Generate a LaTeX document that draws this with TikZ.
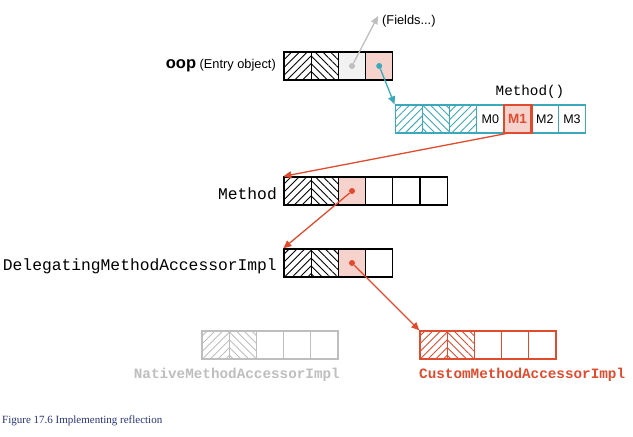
\documentclass[tikz,border=0pt]{standalone}
\usepackage{fontspec}
\setmainfont{Liberation Sans}
\newfontfamily\monof{Liberation Mono}
\newfontfamily\capf{Liberation Serif}
\usetikzlibrary{patterns.meta,arrows.meta}
\definecolor{teal2}{RGB}{60,168,188}
\definecolor{red2}{RGB}{225,75,45}
\definecolor{pink2}{RGB}{246,210,204}
\definecolor{gray2}{RGB}{190,190,190}
\definecolor{cap}{RGB}{40,50,120}
\tikzset{
 cell/.style={draw, minimum width=27.2pt, minimum height=28pt, inner sep=0pt, line width=1.3pt},
 hr/.style={pattern={Lines[angle=45,distance=5.5pt,line width=0.9pt]}},
 hl/.style={pattern={Lines[angle=-45,distance=5.5pt,line width=0.9pt]}},
 ptr/.style={fill=pink2},
 dot/.style={circle, fill, inner sep=0pt, minimum size=6pt},
 arr/.style={-{Triangle[length=8pt,width=7pt]}, line width=1.3pt},
 mono/.style={font=\monof\fontsize{16.3}{17}\selectfont},
 monos/.style={font=\monof\fontsize{14.3}{15}\selectfont},
}
\begin{document}
\begin{tikzpicture}[x=1pt,y=-1pt]
\useasboundingbox (0,0) rectangle (633,437);
% oop row
\node[cell,hr] (o1) at (297.6,66) {};
\node[cell,hl] (o2) at (324.8,66) {};
\node[cell,fill=gray!10] (o3) at (352,66) {};
\node[cell,ptr] (o4) at (379.2,66) {};
\node[anchor=east,font=\fontsize{12.8}{13}\selectfont,inner sep=0pt] (ool) at (276,66) {{\fontsize{16.5}{16}\selectfont\bfseries oop} (Entry object)};
\node[dot,gray2] (d3) at (o3.center) {};
\node[dot,teal2] (d4) at (o4.center) {};
\coordinate (ft) at (378,16);
\node[anchor=west,font=\fontsize{12.8}{13}\selectfont,inner sep=0pt] (fl) at (382,21) {(Fields...)};
\draw[arr,gray2] (d3) -- (ft);
% Method() array
\node[cell,draw=teal2,hr,pattern color=teal2] (a1) at (408.8,119) {};
\node[cell,draw=teal2,hl,pattern color=teal2] (a2) at (436,119) {};
\node[cell,draw=teal2,hr,pattern color=teal2] (a3) at (463.2,119) {};
\node[cell,draw=teal2,font=\fontsize{12.5}{12}\selectfont] (m0) at (490.4,119) {M0};
\node[cell,draw=teal2,font=\fontsize{12.5}{12}\selectfont] (m2) at (544.8,119) {M2};
\node[cell,draw=teal2,font=\fontsize{12.5}{12}\selectfont] (m3) at (572,119) {M3};
\node[cell,draw=red2,fill=pink2,line width=2.6pt,text=red2,font=\fontsize{13.5}{13}\selectfont\bfseries] (m1) at (517.6,119) {M1};
\node[monos,anchor=south,inner sep=0pt] (ml) at (530,99) {Method()};
\draw[arr,teal2] (d4) -- (a1.north west);
% Method row
\node[cell,hr] (b1) at (297.6,191) {};
\node[cell,hl] (b2) at (324.8,191) {};
\node[cell,ptr] (b3) at (352,191) {};
\node[cell] (b4) at (379.2,191) {};
\node[cell] (b5) at (406.4,191) {};
\node[cell] (b6) at (433.6,191) {};
\node[mono,anchor=east,inner sep=0pt] (bl) at (277,194) {Method};
\node[dot,red2] (db) at (b3.center) {};
\coordinate (m1s) at (509,133);
\draw[arr,red2] (m1s) -- (b1.north west);
% Delegating row
\node[cell,hr] (c1) at (297.6,263) {};
\node[cell,hl] (c2) at (324.8,263) {};
\node[cell,ptr] (c3) at (352,263) {};
\node[cell] (c4) at (379.2,263) {};
\node[mono,anchor=east,inner sep=0pt] (cl) at (277,266) {DelegatingMethodAccessorImpl};
\node[dot,red2] (dc) at (c3.center) {};
\draw[arr,red2] (db) -- (c1.north west);
% Native row
\node[cell,draw=gray2,hr,pattern color=gray2] (n1) at (215.6,345) {};
\node[cell,draw=gray2,hl,pattern color=gray2] (n2) at (242.8,345) {};
\node[cell,draw=gray2] (n3) at (270,345) {};
\node[cell,draw=gray2] (n4) at (297.2,345) {};
\node[cell,draw=gray2] (n5) at (324.4,345) {};
\node[monos,text=gray2,anchor=north east,inner sep=0pt,font=\monof\bfseries\fontsize{14.3}{15}\selectfont] (nl) at (340,368) {NativeMethodAccessorImpl};
% Custom row
\node[cell,draw=red2,hr,pattern color=red2] (u1) at (433.6,345) {};
\node[cell,draw=red2,hl,pattern color=red2] (u2) at (460.8,345) {};
\node[cell,draw=red2] (u3) at (488,345) {};
\node[cell,draw=red2] (u4) at (515.2,345) {};
\node[cell,draw=red2] (u5) at (542.4,345) {};
\node[text=red2,anchor=north west,font=\monof\bfseries\fontsize{14.3}{15}\selectfont,inner sep=0pt] (ul) at (419,368) {CustomMethodAccessorImpl};
\draw[arr,red2] (dc) -- (u1.north west);
% caption
\node[anchor=west,text=cap,font=\capf\fontsize{11}{12}\selectfont,inner sep=0pt] (cp) at (2,421) {Figure 17.6 Implementing reflection};
\end{tikzpicture}
\end{document}
